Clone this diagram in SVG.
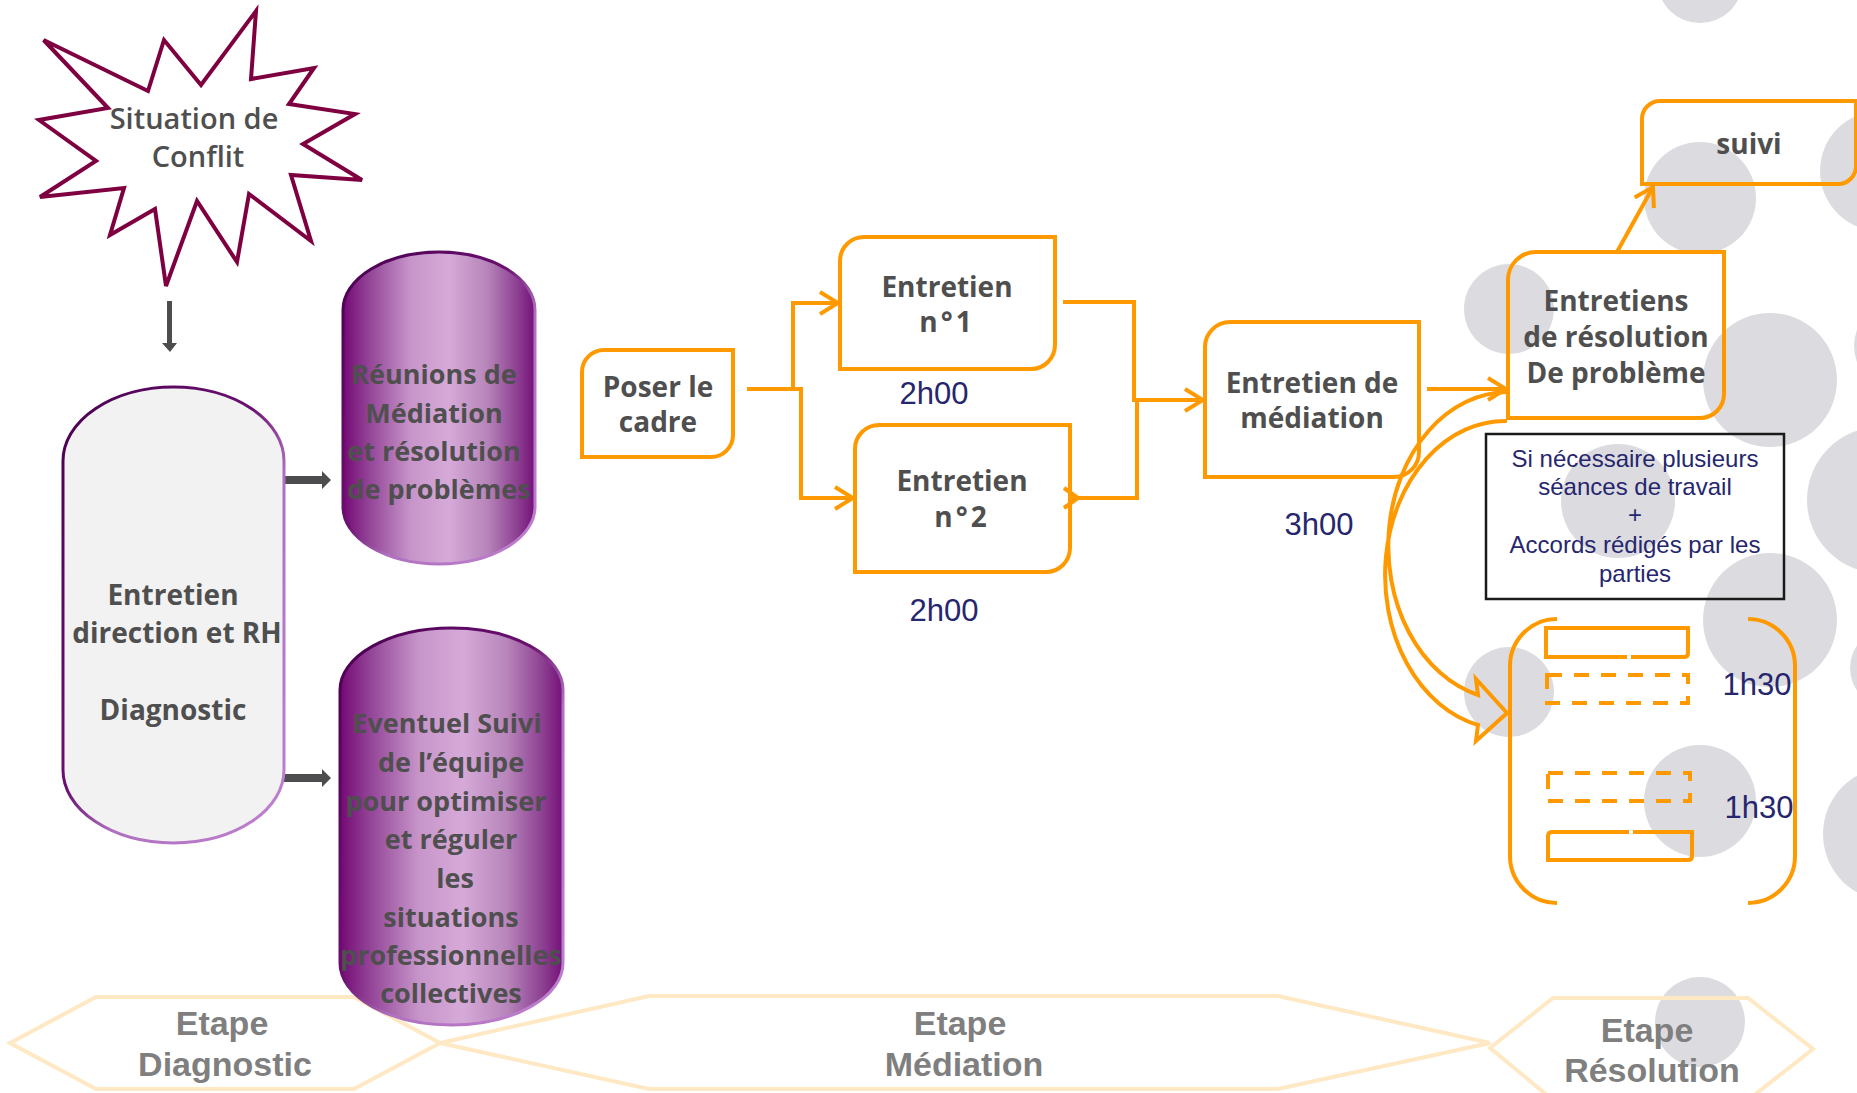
<svg xmlns="http://www.w3.org/2000/svg" width="1857" height="1093" viewBox="0 0 1857 1093">
<defs>
<style>
.lbl{font-family:"Open Sans","DejaVu Sans",sans-serif;font-weight:700;font-size:28px;fill:#4f4f4f;text-anchor:middle}
.cyl{font-family:"Open Sans","DejaVu Sans",sans-serif;font-weight:700;font-size:27px;fill:#4f4f4f;text-anchor:middle}
.star{font-family:"Open Sans","DejaVu Sans",sans-serif;font-weight:600;font-size:29px;fill:#4f4f4f;text-anchor:middle}
.time{font-family:"Liberation Sans",Arial,sans-serif;font-size:31px;fill:#26266e;text-anchor:middle}
.note{font-family:"Liberation Sans",Arial,sans-serif;font-size:24px;fill:#26266e;text-anchor:middle}
.etape{font-family:"Liberation Sans",Arial,sans-serif;font-weight:700;font-size:34px;fill:#7f7f7f;text-anchor:middle}
.box{fill:none;stroke:#ff9900;stroke-width:4}
.conn{fill:none;stroke:#ff9900;stroke-width:4}
.hex{fill:none;stroke:#ffe8c4;stroke-width:4}
.dot{fill:#dcdce0}
.garrow{fill:#4d4d4f}
</style>
<linearGradient id="cylFill" x1="0" y1="0" x2="1" y2="0">
<stop offset="0" stop-color="#740874"/>
<stop offset="0.12" stop-color="#8f3e93"/>
<stop offset="0.35" stop-color="#c694c9"/>
<stop offset="0.55" stop-color="#d6aad8"/>
<stop offset="0.75" stop-color="#b785ba"/>
<stop offset="0.92" stop-color="#8a3a8e"/>
<stop offset="1" stop-color="#741078"/>
</linearGradient>
<linearGradient id="purpleStroke" x1="0" y1="0" x2="1" y2="1">
<stop offset="0" stop-color="#4a0050"/>
<stop offset="0.45" stop-color="#6a1070"/>
<stop offset="0.6" stop-color="#b070c0"/>
<stop offset="1" stop-color="#c080d0"/>
</linearGradient>
<marker id="chev" viewBox="0 0 22 26" refX="20" refY="13" markerWidth="22" markerHeight="26" markerUnits="userSpaceOnUse" orient="auto">
<path d="M2,2 L20,13 L2,24" fill="none" stroke="#ff9900" stroke-width="4"/>
</marker>
</defs>

<g id="background-dots">
<circle class="dot" cx="1700" cy="-20" r="43"/>
<circle class="dot" cx="1700" cy="198" r="56"/>
<circle class="dot" cx="1509" cy="309" r="45"/>
<circle class="dot" cx="1770" cy="380" r="67"/>
<circle class="dot" cx="1880" cy="171" r="60"/>
<circle class="dot" cx="1900" cy="346" r="46"/>
<circle class="dot" cx="1618" cy="501" r="57"/>
<circle class="dot" cx="1880" cy="500" r="73"/>
<circle class="dot" cx="1770" cy="620" r="67"/>
<circle class="dot" cx="1509" cy="692" r="45"/>
<circle class="dot" cx="1890" cy="668" r="40"/>
<circle class="dot" cx="1700" cy="801" r="56"/>
<circle class="dot" cx="1890" cy="834" r="67"/>
<circle class="dot" cx="1700" cy="1022" r="45"/>
</g>

<g id="etapes">
<g id="etape-diagnostic">
<polygon class="hex" points="10,1043 96,997 354,997 440,1043 354,1089 96,1089"/>
<text class="etape" x="222" y="1035">Etape</text>
<text class="etape" x="225" y="1076">Diagnostic</text>
</g>
<g id="etape-mediation">
<polygon class="hex" points="440,1043 649,996 1278,996 1490,1043 1278,1089 649,1089"/>
<text class="etape" x="960" y="1035">Etape</text>
<text class="etape" x="964" y="1076">Médiation</text>
</g>
<g id="etape-resolution">
<polygon class="hex" points="1490,1048 1553,998 1748,998 1813,1049 1748,1100 1553,1100"/>
<text class="etape" x="1647" y="1042">Etape</text>
<text class="etape" x="1652" y="1082">Résolution</text>
</g>
</g>

<g id="connectors">
<polygon class="garrow" points="167,301 172,301 172,343 177,343 170,352 162,343 167,343"/>
<polygon class="garrow" points="281,476 322,476 322,471 331,480 322,489 322,484 281,484"/>
<polygon class="garrow" points="281,774 322,774 322,769 331,778 322,787 322,782 281,782"/>
<path class="conn" d="M747,389 H801 V498 H853" marker-end="url(#chev)"/>
<path class="conn" d="M793,389 V303 H838" marker-end="url(#chev)"/>
<path class="conn" d="M1063,302 H1134 V400 H1203" marker-end="url(#chev)"/>
<path class="conn" d="M1072,498 H1137 V400"/>
<path class="conn" d="M1064,488 L1078,498 L1064,508"/>
<path class="conn" d="M1427,389 H1506" marker-end="url(#chev)"/>
<path class="conn" d="M1617,252 L1653,187" marker-end="url(#chev)"/>
<path class="conn" stroke-width="3.5" d="M1507,392 A120,154 0 0 0 1478,695 L1476,679 L1507,713 L1476,741 L1478,725 A120,154 0 0 1 1507,421"/>
</g>

<g id="situation-conflit">
<polygon fill="#fff" stroke="#7f0040" stroke-width="4" stroke-linejoin="miter" points="43.6,40 148,91 164,40 201,85 256,11 251,79 314,68 289,104 355,114 303,144 362,180 291,175 311,241 249,194 237,262 197,201 166,286 155,209 110,235 124,188 40,197 96,161 39,120 108,108"/>
<text class="star" x="194" y="129">Situation de</text>
<text class="star" x="198" y="167">Conflit</text>
</g>

<g id="entretien-direction">
<path d="M63,461 A110.5,74 0 0 1 284,461 V770 A110.5,73 0 0 1 63,770 Z" fill="#f2f2f2" stroke="url(#purpleStroke)" stroke-width="3"/>
<text class="lbl" x="173" y="605">Entretien</text>
<text class="lbl" x="177" y="643">direction et RH</text>
<text class="lbl" x="173" y="720">Diagnostic</text>
</g>

<g id="reunions-mediation">
<path d="M343,310 A96,58 0 0 1 535,310 V507 A96,57 0 0 1 343,507 Z" fill="url(#cylFill)" stroke="url(#purpleStroke)" stroke-width="3"/>
<text class="cyl" x="434" y="384">Réunions de</text>
<text class="cyl" x="434" y="423">Médiation</text>
<text class="cyl" x="434" y="461">et résolution</text>
<text class="cyl" x="439" y="499">de problèmes</text>
</g>

<g id="eventuel-suivi">
<path d="M340,690 A111.5,62 0 0 1 563,690 V963 A111.5,62 0 0 1 340,963 Z" fill="url(#cylFill)" stroke="url(#purpleStroke)" stroke-width="3"/>
<text class="cyl" x="447" y="733">Eventuel Suivi</text>
<text class="cyl" x="451" y="772">de l’équipe</text>
<text class="cyl" x="446" y="811">pour optimiser</text>
<text class="cyl" x="451" y="849">et réguler</text>
<text class="cyl" x="455" y="888">les</text>
<text class="cyl" x="451" y="927">situations</text>
<text class="cyl" x="451" y="965">professionnelles</text>
<text class="cyl" x="451" y="1003">collectives</text>
</g>

<g id="poser-cadre">
<path class="box" d="M582,372 A22,22 0 0 1 604,350 H733 V435 A22,22 0 0 1 711,457 H582 Z"/>
<text class="lbl" x="658" y="397">Poser le</text>
<text class="lbl" x="658" y="432">cadre</text>
</g>

<g id="entretien-1">
<path class="box" d="M840,261 A24,24 0 0 1 864,237 H1055 V345 A24,24 0 0 1 1031,369 H840 Z"/>
<text class="lbl" x="947" y="297">Entretien</text>
<text class="lbl" x="947" y="332" letter-spacing="3">n°1</text>
<text class="time" x="934" y="404">2h00</text>
</g>

<g id="entretien-2">
<path class="box" d="M855,449 A24,24 0 0 1 879,425 H1070 V548 A24,24 0 0 1 1046,572 H855 Z"/>
<text class="lbl" x="962" y="491">Entretien</text>
<text class="lbl" x="962" y="527" letter-spacing="3">n°2</text>
<text class="time" x="944" y="621">2h00</text>
</g>

<g id="entretien-mediation">
<path class="box" d="M1205,347 A25,25 0 0 1 1230,322 H1419 V452 A25,25 0 0 1 1394,477 H1205 Z"/>
<text class="lbl" x="1312" y="393">Entretien de</text>
<text class="lbl" x="1312" y="428">médiation</text>
<text class="time" x="1319" y="535">3h00</text>
</g>

<g id="entretiens-resolution">
<path class="box" d="M1508,280 A28,28 0 0 1 1536,252 H1724 V394 A24,24 0 0 1 1700,418 H1508 Z"/>
<text class="lbl" x="1616" y="311">Entretiens</text>
<text class="lbl" x="1616" y="347">de résolution</text>
<text class="lbl" x="1616" y="383">De problème</text>
</g>

<g id="suivi">
<path class="box" d="M1642,119 A18,18 0 0 1 1660,101 H1856 V166 A18,18 0 0 1 1838,184 H1642 Z"/>
<text class="lbl" x="1749" y="154">suivi</text>
</g>

<g id="note-seances">
<rect x="1486" y="434" width="298" height="165" fill="none" stroke="#1a1a1a" stroke-width="2.5"/>
<text class="note" x="1635" y="467">Si nécessaire plusieurs</text>
<text class="note" x="1635" y="495">séances de travail</text>
<text class="note" x="1635" y="523">+</text>
<text class="note" x="1635" y="553">Accords rédigés par les</text>
<text class="note" x="1635" y="582">parties</text>
</g>

<g id="seances-bracket">
<path class="box" d="M1557,619 A47,47 0 0 0 1510,666 V856 A47,47 0 0 0 1557,903"/>
<path class="box" d="M1748,619 A47,47 0 0 1 1795,666 V856 A47,47 0 0 1 1748,903"/>
<path class="box" d="M1627,657 H1546 V628 H1688 V653 Q1688,657 1684,657 H1631"/>
<rect class="box" x="1547" y="675" width="141" height="28" stroke-dasharray="15 12"/>
<rect class="box" x="1548" y="773" width="142" height="28" stroke-dasharray="15 12"/>
<path class="box" d="M1629,832 H1552 Q1548,832 1548,836 V860 H1688 Q1692,860 1692,856 V832 H1633"/>
<text class="time" x="1757" y="695">1h30</text>
<text class="time" x="1759" y="818">1h30</text>
</g>
</svg>
